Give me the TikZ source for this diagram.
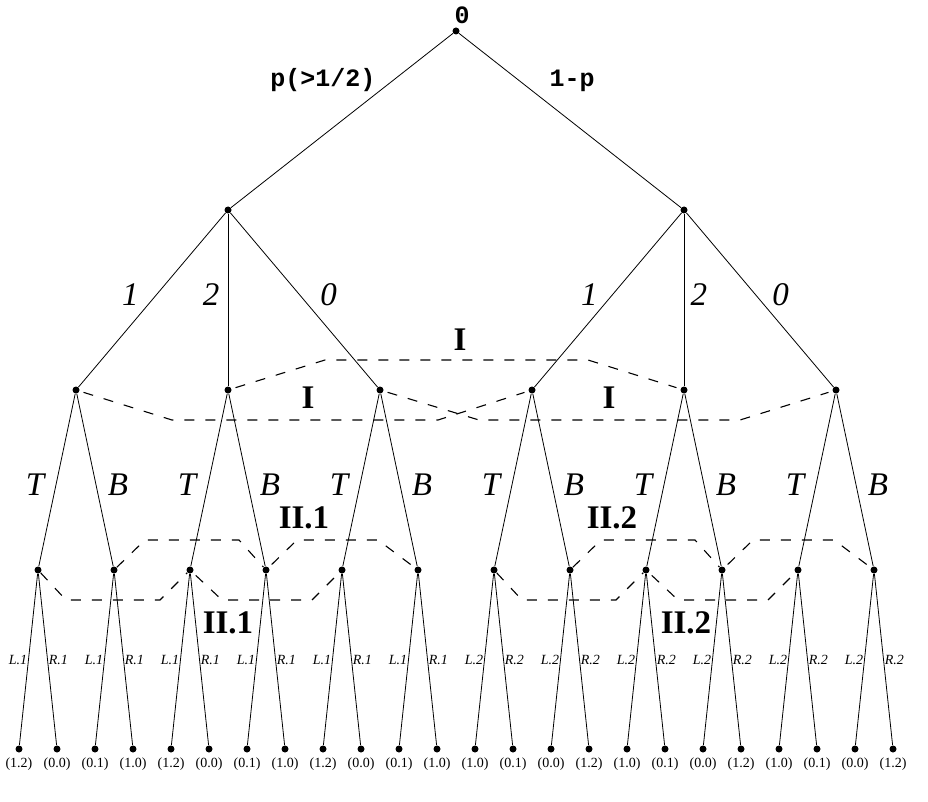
\documentclass[tikz,border=0pt]{standalone}
\usepackage{fontspec}
\setmainfont{Liberation Serif}
\setmonofont{Liberation Mono}
\usetikzlibrary{calc}

\tikzset{
  dot/.style={circle, fill=black, inner sep=0pt, minimum size=7pt},
  infoset/.style={dash pattern=on 10pt off 11pt, line width=1.1pt, shorten <=4pt, shorten >=4pt},
  chance/.style={font=\fontsize{25}{28}\selectfont\ttfamily\bfseries},
  move/.style={font=\fontsize{33}{36}\selectfont\itshape},
  player/.style={font=\fontsize{33}{36}\selectfont\bfseries},
  act/.style={font=\fontsize{14}{16}\selectfont\itshape, inner sep=1pt},
  payoff/.style={font=\fontsize{14}{16}\selectfont},
}

\begin{document}
\begin{tikzpicture}[x=1pt, y=-1pt, line width=0.8pt]
	\useasboundingbox (0,0) rectangle (928,802);

	% Nodes of the tree
	\node[dot, label={[chance, xshift=6pt]above:0}] (r) at (456,31) {};
	\node[dot] (a1) at (228,210) {};
	\node[dot] (a2) at (684,210) {};
	\foreach \i in {1,...,6}
		\node[dot] (b\i) at ({76+152*(\i-1)},390) {};
	\foreach \i in {1,...,12}
		\node[dot] (c\i) at ({38+76*(\i-1)},570) {};
	\foreach \i/\v in {1/1.2, 2/0.0, 3/0.1, 4/1.0, 5/1.2, 6/0.0, 7/0.1, 8/1.0,
			9/1.2, 10/0.0, 11/0.1, 12/1.0, 13/1.0, 14/0.1, 15/0.0, 16/1.2,
			17/1.0, 18/0.1, 19/0.0, 20/1.2, 21/1.0, 22/0.1, 23/0.0, 24/1.2}
		\node[dot, label={[payoff, label distance=1pt]below:{(\v)}}] (d\i) at ({19+38*(\i-1)},749) {};

	% Chance move
	\draw (r) -- node[chance, pos=0.27, left=14pt] {p(>1/2)} (a1);
	\draw (r) -- node[chance, pos=0.27, right=27pt] {1-p} (a2);

	% Types of player I
	\draw (a1) -- node[move, pos=0.47, left=14pt] {1} (b1);
	\draw (a1) -- node[move, pos=0.47, left=5pt] {2} (b2);
	\draw (a1) -- node[move, pos=0.47, right=17pt] {0} (b3);
	\draw (a2) -- node[move, pos=0.47, left=11pt] {1} (b4);
	\draw (a2) -- node[move, pos=0.47, right=3pt] {2} (b5);
	\draw (a2) -- node[move, pos=0.47, right=13pt] {0} (b6);

	% Moves of player I
	\foreach \i [evaluate=\i as \ja using int(2*\i-1), evaluate=\i as \jb using int(2*\i)] in {1,...,6} {
		\draw (b\i) -- node[move, pos=0.53, left=8pt] {T} (c\ja);
		\draw (b\i) -- node[move, pos=0.53, right=8pt] {B} (c\jb);
	}

	% Moves of player II
	\foreach \i [evaluate=\i as \ja using int(2*\i-1), evaluate=\i as \jb using int(2*\i),
			evaluate=\i as \pl using int(1+(\i>6))] in {1,...,12} {
		\draw (c\i) -- node[act, left] {L.\pl} (d\ja);
		\draw (c\i) -- node[act, right] {R.\pl} (d\jb);
	}

	% Information sets of player I
	\draw[infoset] (b2) -- (325,360) -- (588,360) -- (b5);
	\draw[infoset] (b1) -- (172,420) -- (438,420) -- (b4);
	\draw[infoset] (b3) -- (479,420) -- (740,420) -- (b6);
	\node[player] (i1) at (460,340) {I};
	\node[player] (i2) at (308,398) {I};
	\node[player] (i3) at (609,398) {I};

	% Information sets of player II
	\foreach \a/\b/\c in {1/3/5, 7/9/11}
		\draw[infoset] (c\a) -- ($(c\a)+(28,30)$) -- ($(c\b)+(-30,30)$) -- (c\b)
			-- ($(c\b)+(32,30)$) -- ($(c\c)+(-30,30)$) -- (c\c);
	\foreach \a/\b/\c in {2/4/6, 8/10/12}
		\draw[infoset] (c\a) -- ($(c\a)+(31,-30)$) -- ($(c\b)+(-27,-30)$) -- (c\b)
			-- ($(c\b)+(31,-30)$) -- ($(c\c)+(-40,-30)$) -- (c\c);
	\node[player] (ii1) at (304,518) {II.1};
	\node[player] (ii2) at (228,623) {II.1};
	\node[player] (ii3) at (612,518) {II.2};
	\node[player] (ii4) at (686,623) {II.2};

\end{tikzpicture}
\end{document}
